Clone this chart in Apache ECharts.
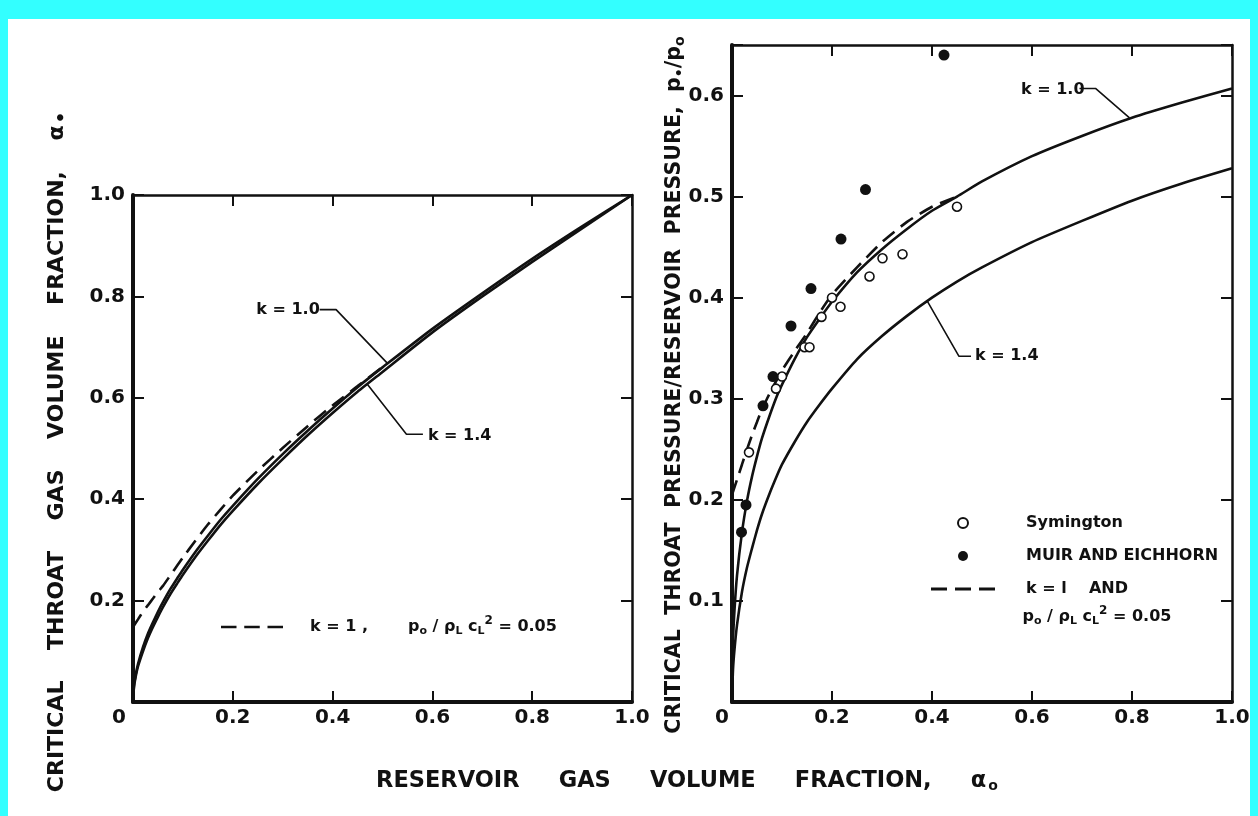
<!DOCTYPE html>
<html><head><meta charset="utf-8">
<script src="https://cdn.jsdelivr.net/npm/echarts@6/dist/echarts.min.js"></script>
<style>html,body{margin:0;padding:0;background:#fff}#c{width:1258px;height:816px}</style>
</head><body><div id="c"></div>
<script>
// ---------------- data ----------------
// Reservoir gas volume fraction (x of both panels)
const alpha0 = [0, 0.002, 0.005, 0.01, 0.02, 0.03, 0.04, 0.05, 0.06, 0.075, 0.09, 0.1, 0.125, 0.15, 0.175, 0.2, 0.25, 0.3, 0.35, 0.4, 0.45, 0.5, 0.6, 0.7, 0.8, 0.9, 1.0];
// Left panel: critical throat gas volume fraction
const throatAlphaK10 = [0, 0.033, 0.052, 0.075, 0.108, 0.135, 0.157, 0.178, 0.197, 0.223, 0.246, 0.261, 0.296, 0.328, 0.359, 0.387, 0.440, 0.489, 0.535, 0.579, 0.621, 0.660, 0.736, 0.806, 0.874, 0.938, 1.0];
const throatAlphaK14 = [0, 0.030, 0.048, 0.070, 0.100, 0.126, 0.148, 0.168, 0.187, 0.213, 0.236, 0.251, 0.286, 0.318, 0.349, 0.377, 0.430, 0.479, 0.526, 0.570, 0.612, 0.651, 0.729, 0.800, 0.868, 0.934, 1.0];
const alpha0DashedA = [0, 0.01, 0.02, 0.03, 0.04, 0.05, 0.06, 0.075, 0.09, 0.1, 0.125, 0.15, 0.175, 0.2, 0.25, 0.3, 0.35, 0.4, 0.45, 0.5];
const throatAlphaDashed = [0.148, 0.163, 0.178, 0.191, 0.204, 0.217, 0.229, 0.25, 0.271, 0.285, 0.318, 0.35, 0.379, 0.407, 0.456, 0.501, 0.544, 0.585, 0.623, 0.661];

// Right panel: critical throat pressure / reservoir pressure
const pressureRatioK10 = [0, 0.060, 0.091, 0.125, 0.168, 0.199, 0.223, 0.243, 0.261, 0.283, 0.303, 0.314, 0.339, 0.361, 0.379, 0.396, 0.425, 0.448, 0.468, 0.486, 0.500, 0.515, 0.540, 0.560, 0.578, 0.593, 0.607];
const pressureRatioK14 = [0, 0.032, 0.052, 0.076, 0.109, 0.133, 0.152, 0.170, 0.186, 0.206, 0.224, 0.235, 0.257, 0.277, 0.294, 0.310, 0.339, 0.362, 0.382, 0.400, 0.416, 0.430, 0.455, 0.476, 0.496, 0.513, 0.528];
const alpha0DashedP = [0, 0.01, 0.02, 0.03, 0.04, 0.05, 0.06, 0.07, 0.08, 0.09, 0.1, 0.125, 0.15, 0.175, 0.2, 0.25, 0.3, 0.35, 0.4, 0.45];
const pressureRatioDashed = [0.205, 0.22, 0.235, 0.25, 0.264, 0.277, 0.29, 0.30, 0.31, 0.319, 0.328, 0.347, 0.365, 0.385, 0.403, 0.43, 0.455, 0.475, 0.49, 0.50];

// Experimental points (right panel)
const symingtonX = [0.034, 0.088, 0.100, 0.145, 0.155, 0.179, 0.200, 0.217, 0.275, 0.301, 0.341, 0.450];
const symingtonY = [0.247, 0.310, 0.322, 0.351, 0.351, 0.381, 0.400, 0.391, 0.421, 0.439, 0.443, 0.490];
const muirX = [0.019, 0.028, 0.062, 0.082, 0.118, 0.158, 0.218, 0.267, 0.424];
const muirY = [0.168, 0.195, 0.293, 0.322, 0.372, 0.409, 0.458, 0.507, 0.640];

// Tick labels
const xTickValues = [0, 0.2, 0.4, 0.6, 0.8, 1.0];
const xTickLabels = ['0', '0.2', '0.4', '0.6', '0.8', '1.0'];
const leftYTickValues = [0.2, 0.4, 0.6, 0.8, 1.0];
const leftYTickLabels = ['0.2', '0.4', '0.6', '0.8', '1.0'];
const rightYTickValues = [0.1, 0.2, 0.3, 0.4, 0.5, 0.6];
const rightYTickLabels = ['0.1', '0.2', '0.3', '0.4', '0.5', '0.6'];

// Names / texts
const nameK10 = 'k = 1.0';
const nameK14 = 'k = 1.4';
const nameLeftDashed = 'k = 1,  po/ρLcL² = 0.05';
const nameSym = 'Symington';
const nameMuir = 'MUIR AND EICHHORN';
const nameRightDashed = 'k = 1 AND';

// Annotation anchors (data coordinates of each panel; text starts at "at")
const notesLeft = [
  { text: 'k = 1.0', at: [0.247, 0.774], leader: [[0.374, 0.774], [0.407, 0.774], [0.51, 0.668]] },
  { text: 'k = 1.4', at: [0.591, 0.525], leader: [[0.581, 0.528], [0.548, 0.528], [0.47, 0.626]] }
];
const notesRight = [
  { text: 'k = 1.0', at: [0.578, 0.606], leader: [[0.695, 0.607], [0.727, 0.607], [0.795, 0.578]] },
  { text: 'k = 1.4', at: [0.486, 0.342], leader: [[0.478, 0.342], [0.454, 0.342], [0.39, 0.397]] },
  { text: 'p{sub|o} / ρ{sub|L} c{sub|L}{sup|2} = 0.05', at: [0.581, 0.0844] }
];

// ---------------- chart ----------------
const FONT = 'DejaVu Sans';
const INK = '#111';
const CYAN = '#33ffff';
const zip = (xs, ys) => xs.map((x, i) => [x, ys[i]]);
const lookup = (vals, labels) => v => {
  const i = vals.findIndex(t => Math.abs(t - v) < 1e-9);
  if (i < 0) return '';
  return labels[i] === '0' ? '{z|0}' : labels[i];
};
const richSub = {
  sub: { fontSize: 11, fontFamily: FONT, fontWeight: 'bold', color: INK, fill: INK, padding: [9, 0, 0, 0] },
  sup: { fontSize: 12, fontFamily: FONT, fontWeight: 'bold', color: INK, fill: INK, padding: [0, 0, 12, 0] },
  sp: { width: 40 }
};

function mainAxis(gridIndex, pos, min, max, interval, vals, labels, shift) {
  return {
    type: 'value', gridIndex, position: pos, min, max, interval,
    axisLine: { show: true, onZero: false, lineStyle: { color: INK, width: 4 } },
    axisTick: { show: true, inside: true, length: 11, lineStyle: { color: INK, width: 2 } },
    splitLine: { show: false },
    axisLabel: {
      show: true, margin: (pos === 'bottom') ? 6 : 8, formatter: lookup(vals, labels),
      fontFamily: FONT, fontWeight: 'bold', fontSize: 20, color: INK,
      rich: { z: { fontFamily: FONT, fontWeight: 'bold', fontSize: 20, color: INK, padding: [0, shift * 2, 0, 0] } }
    }
  };
}
function frameAxis(gridIndex, pos, min, max, interval) {
  return {
    type: 'value', gridIndex, position: pos, min, max, interval,
    axisLine: { show: true, onZero: false, lineStyle: { color: INK, width: 2.5 } },
    axisTick: { show: true, inside: true, length: 11, lineStyle: { color: INK, width: 2 } },
    axisLabel: { show: false }, splitLine: { show: false }
  };
}

function curve(name, xi, yi, data, dashed) {
  return {
    type: 'line', name, xAxisIndex: xi, yAxisIndex: yi, data,
    smooth: 0.2, symbol: 'none', silent: true, z: 3,
    lineStyle: dashed ? { color: INK, width: 2.6, type: [15, 8] } : { color: INK, width: 2.6 },
    itemStyle: { color: INK }
  };
}

const series = [
  curve(nameK10, 0, 0, zip(alpha0, throatAlphaK10)),
  curve(nameK14, 0, 0, zip(alpha0, throatAlphaK14)),
  curve(nameLeftDashed, 0, 0, zip(alpha0DashedA, throatAlphaDashed), true),
  curve(nameK10 + ' ', 2, 2, zip(alpha0, pressureRatioK10)),
  curve(nameK14 + ' ', 2, 2, zip(alpha0, pressureRatioK14)),
  curve(nameRightDashed, 2, 2, zip(alpha0DashedP, pressureRatioDashed), true),
  {
    type: 'scatter', name: nameSym, xAxisIndex: 2, yAxisIndex: 2, data: zip(symingtonX, symingtonY),
    symbol: 'circle', symbolSize: 9, z: 5,
    itemStyle: { color: '#fff', borderColor: INK, borderWidth: 1.6, opacity: 1 }
  },
  {
    type: 'scatter', name: nameMuir, xAxisIndex: 2, yAxisIndex: 2, data: zip(muirX, muirY),
    symbol: 'circle', symbolSize: 11, z: 5, itemStyle: { color: INK, opacity: 1 }
  }
];

[[notesLeft, 0], [notesRight, 2]].forEach(([notes, ai]) => {
  notes.forEach((n, k) => {
    if (n.leader) {
      series.push({
        type: 'line', name: 'leader' + ai + k, xAxisIndex: ai, yAxisIndex: ai, data: n.leader,
        symbol: 'none', silent: true, z: 4, lineStyle: { color: INK, width: 1.6 }
      });
    }
  });
});

// dashed legend icon: three dashes inside a 64 x 10 box
const dashIcon = 'path://M0,0h0.01v0.01h-0.01z M0,10h0.01v-0.01h-0.01z M0,3.6h16v2.8h-16z M24,3.6h16v2.8h-16z M48,3.6h16v2.8h-16z';
const legendText = { fontFamily: FONT, fontWeight: 'bold', fontSize: 16, color: INK, lineHeight: 20 };

const baseGraphic = [
  { type: 'rect', left: 0, top: 0, shape: { width: 1258, height: 19 }, style: { fill: CYAN }, silent: true },
  { type: 'rect', left: 0, top: 0, shape: { width: 8, height: 816 }, style: { fill: CYAN }, silent: true },
  { type: 'rect', right: 0, top: 0, shape: { width: 8, height: 816 }, style: { fill: CYAN }, silent: true },
  {
    type: 'text', x: 57, y: 452, rotation: Math.PI / 2, silent: true,
    style: {
      text: 'CRITICAL    THROAT    GAS    VOLUME    FRACTION,    α{sub|•}',
      fontFamily: FONT, fontWeight: 'bold', fontSize: 22, fill: INK, align: 'center', verticalAlign: 'middle',
      rich: { sub: { fontSize: 18, fontFamily: FONT, fontWeight: 'bold', fill: INK, padding: [10, 0, 0, 2] } }
    }
  },
  {
    type: 'text', x: 675, y: 385, rotation: Math.PI / 2, silent: true,
    style: {
      text: 'CRITICAL  THROAT  PRESSURE/RESERVOIR  PRESSURE,  p{sub|•}/p{sub|o}',
      fontFamily: FONT, fontWeight: 'bold', fontSize: 20.6, fill: INK, align: 'center', verticalAlign: 'middle',
      rich: { sub: { fontSize: 14, fontFamily: FONT, fontWeight: 'bold', fill: INK, padding: [10, 0, 0, 0] } }
    }
  },
  {
    type: 'text', x: 687, y: 781, silent: true,
    style: {
      text: 'RESERVOIR     GAS     VOLUME     FRACTION,     α{sub|o}',
      fontFamily: FONT, fontWeight: 'bold', fontSize: 22.5, fill: INK, align: 'center', verticalAlign: 'middle',
      rich: { sub: { fontSize: 14, fontFamily: FONT, fontWeight: 'bold', fill: INK, padding: [10, 0, 0, 2] } }
    }
  }
];

const option = {
  animation: false,
  backgroundColor: '#fff',
  grid: [
    { left: 133, top: 195, width: 499, height: 507 },
    { left: 732, top: 45, width: 500, height: 657 }
  ],
  xAxis: [
    mainAxis(0, 'bottom', 0, 1, 0.2, xTickValues, xTickLabels, 14),
    frameAxis(0, 'top', 0, 1, 0.2),
    mainAxis(1, 'bottom', 0, 1, 0.2, xTickValues, xTickLabels, 10),
    frameAxis(1, 'top', 0, 1, 0.2)
  ],
  yAxis: [
    mainAxis(0, 'left', 0, 1, 0.2, leftYTickValues, leftYTickLabels, 0),
    frameAxis(0, 'right', 0, 1, 0.2),
    mainAxis(1, 'left', 0, 0.65, 0.1, rightYTickValues, rightYTickLabels, 0),
    frameAxis(1, 'right', 0, 0.65, 0.1)
  ],
  legend: [
    {
      data: [{ name: nameLeftDashed, icon: dashIcon }], left: 216, top: 610, orient: 'vertical',
      itemWidth: 62, itemHeight: 10, selectedMode: false,
      itemStyle: { color: INK, borderWidth: 0 },
      formatter: () => 'k = 1 ,{sp|}p{sub|o} / ρ{sub|L} c{sub|L}{sup|2} = 0.05',
      textStyle: Object.assign({ padding: [0, 0, 0, 22], rich: richSub }, legendText)
    },
    {
      data: [nameSym, nameMuir, { name: nameRightDashed, icon: dashIcon, itemStyle: { color: INK, borderWidth: 0 } }],
      left: 926, top: 508, orient: 'vertical',
      itemWidth: 64, itemHeight: 10, itemGap: 13, selectedMode: false,
      formatter: n => n === nameRightDashed ? 'k = l    AND' : n,
      textStyle: Object.assign({ padding: [0, 0, 0, 26], rich: richSub }, legendText)
    }
  ],
  graphic: baseGraphic,
  series
};

const chart = echarts.init(document.getElementById('c'));
chart.setOption(option);

// annotation texts placed through the panels' own scales
const noteGraphic = [];
[[notesLeft, 0], [notesRight, 2]].forEach(([notes, ai]) => {
  notes.forEach(n => {
    const p = chart.convertToPixel({ xAxisIndex: ai, yAxisIndex: ai }, n.at);
    noteGraphic.push({
      type: 'text', x: p[0], y: p[1], silent: true, z: 100,
      style: {
        text: n.text, fontFamily: FONT, fontWeight: 'bold', fontSize: 16, fill: INK,
        align: 'left', verticalAlign: 'middle', rich: richSub
      }
    });
  });
});
chart.setOption({ graphic: baseGraphic.concat(noteGraphic) });
</script>
</body></html>
